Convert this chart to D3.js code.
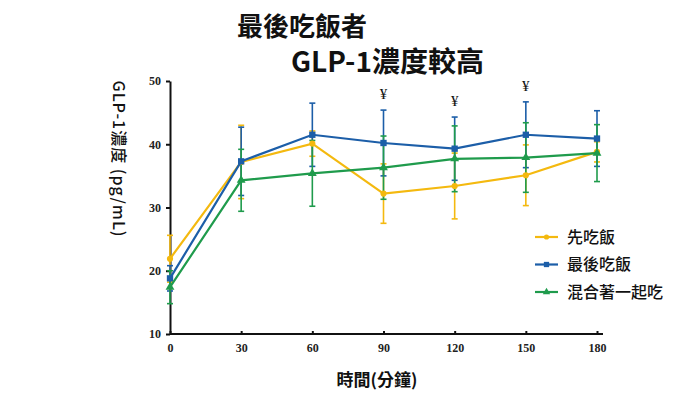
<!DOCTYPE html>
<html>
<head>
<meta charset="utf-8">
<script src="https://cdn.jsdelivr.net/npm/d3@7"></script>
<style>
  body { margin: 0; background: #fff; }
  svg { display: block; }
</style>
</head>
<body>
<div id="chart"></div>
<script>
// ---------------------------------------------------------------------------
// DATA
// ---------------------------------------------------------------------------
const times = [0, 30, 60, 90, 120, 150, 180];
const yTicks = [10, 20, 30, 40, 50];

const riceFirst = [21.9, 37.2, 40.1, 32.2, 33.4, 35.1, 38.8];
const riceFirstErr = [3.7, 5.8, 2.0, 4.7, 5.2, 4.8, 1.6];

const riceLast = [18.8, 37.3, 41.5, 40.2, 39.3, 41.5, 40.9];
const riceLastErr = [2.0, 5.4, 5.0, 5.2, 5.0, 5.2, 4.4];

const mixed = [17.4, 34.3, 35.4, 36.3, 37.7, 37.9, 38.6];
const mixedErr = [2.6, 4.9, 5.2, 5.0, 5.2, 5.5, 4.5];

const seriesNames = ["先吃飯", "最後吃飯", "混合著一起吃"];
const sigTimes = [90, 120, 150];

// ---------------------------------------------------------------------------
// SETUP
// ---------------------------------------------------------------------------
const W = 700, H = 394;
const x = d3.scaleLinear().domain([0, 180]).range([170, 597]);
const y = d3.scaleLinear().domain([10, 50]).range([334, 81]);

const svg = d3.select("#chart").append("svg")
  .attr("width", W).attr("height", H);

const series = [
  { name: seriesNames[0], vals: riceFirst, err: riceFirstErr, color: "#f4b90f", marker: d3.symbolCircle, size: 30 },
  { name: seriesNames[1], vals: riceLast, err: riceLastErr, color: "#1c5ea8", marker: d3.symbolSquare, size: 40 },
  { name: seriesNames[2], vals: mixed, err: mixedErr, color: "#1f9b4c", marker: d3.symbolTriangle, size: 34 }
];

// title
const title = svg.append("g")
  .style("font-family", "'Noto Sans CJK TC', 'Noto Sans', sans-serif")
  .style("font-weight", "bold")
  .attr("fill", "#111");
title.append("text").attr("x", 237).attr("y", 36).style("font-size", "26px").text("最後吃飯者");
title.append("text").attr("x", 291).attr("y", 72).style("font-size", "28px").text("GLP-1濃度較高");

// ---------------------------------------------------------------------------
// AXES
// ---------------------------------------------------------------------------
const xAxis = svg.append("g")
  .attr("transform", `translate(0,${y(10)})`)
  .call(d3.axisBottom(x).tickValues(times).tickSize(-3).tickPadding(9).tickSizeOuter(0));
xAxis.select(".domain").attr("d", `M${x(0)},0H603`);

const yAxis = svg.append("g")
  .attr("transform", `translate(${x(0)},0)`)
  .call(d3.axisLeft(y).tickValues(yTicks).tickSize(4).tickPadding(5).tickSizeOuter(0));

[xAxis, yAxis].forEach(a => {
  a.select(".domain").attr("stroke", "#111").attr("stroke-width", 2);
  a.selectAll(".tick line").attr("stroke", "#111").attr("stroke-width", 2);
  a.selectAll(".tick text")
    .style("font-family", "'Liberation Serif', 'DejaVu Serif', serif")
    .style("font-weight", "bold")
    .style("font-size", "12px")
    .attr("fill", "#222");
});

svg.append("text")
  .attr("x", 377).attr("y", 386)
  .attr("text-anchor", "middle")
  .style("font-family", "'Noto Sans CJK TC', sans-serif")
  .style("font-weight", "bold")
  .style("font-size", "17px")
  .attr("fill", "#111")
  .text("時間(分鐘)");

svg.append("text")
  .attr("transform", "translate(113,159) rotate(90)")
  .attr("text-anchor", "middle")
  .style("font-family", "'Noto Sans CJK TC', sans-serif")
  .style("font-weight", "500")
  .style("font-size", "16px")
  .style("letter-spacing", "1px")
  .attr("fill", "#111")
  .text("GLP-1濃度 (pg/mL)");

// ---------------------------------------------------------------------------
// ERROR BARS, LINES, MARKERS
// ---------------------------------------------------------------------------
const line = d3.line().x((d, i) => x(times[i])).y(d => y(d));

series.forEach(s => {
  const g = svg.append("g");
  times.forEach((t, i) => {
    const lo = y(s.vals[i] - s.err[i]), hi = y(s.vals[i] + s.err[i]);
    g.append("line").attr("x1", x(t)).attr("x2", x(t)).attr("y1", lo).attr("y2", hi)
      .attr("stroke", s.color).attr("stroke-width", 1.6);
    [lo, hi].forEach(yy => g.append("line")
      .attr("x1", x(t) - 3).attr("x2", x(t) + 3).attr("y1", yy).attr("y2", yy)
      .attr("stroke", s.color).attr("stroke-width", 1.6));
  });
});

series.forEach(s => {
  svg.append("path").datum(s.vals)
    .attr("d", line)
    .attr("fill", "none")
    .attr("stroke", s.color)
    .attr("stroke-width", 2.2);
  svg.append("g").selectAll("path").data(s.vals).join("path")
    .attr("transform", (d, i) => `translate(${x(times[i])},${y(d)})`)
    .attr("d", d3.symbol().type(s.marker).size(s.size))
    .attr("fill", s.color);
});

// significance marks above the 最後吃飯 error bars
sigTimes.forEach(t => {
  const i = times.indexOf(t);
  svg.append("text")
    .attr("x", x(t)).attr("y", y(riceLast[i] + riceLastErr[i]) - 11)
    .attr("text-anchor", "middle")
    .style("font-family", "'Liberation Serif', 'DejaVu Serif', serif")
    .style("font-size", "15px")
    .attr("fill", "#111")
    .text("¥");
});

// ---------------------------------------------------------------------------
// LEGEND
// ---------------------------------------------------------------------------
const legend = svg.append("g").attr("transform", "translate(535,237)");
series.forEach((s, i) => {
  const row = legend.append("g").attr("transform", `translate(0,${i * 27.5})`);
  row.append("line").attr("x1", 0).attr("x2", 23).attr("y1", 0).attr("y2", 0)
    .attr("stroke", s.color).attr("stroke-width", 2.2);
  row.append("path").attr("transform", "translate(11.5,0)")
    .attr("d", d3.symbol().type(s.marker).size(s.size * 0.7))
    .attr("fill", s.color);
  row.append("text").attr("x", 32).attr("y", 0).attr("dy", "0.36em")
    .style("font-family", "'Noto Sans CJK TC', sans-serif")
    .style("font-weight", "500")
    .style("font-size", "16px")
    .attr("fill", "#111")
    .text(s.name);
});
</script>
</body>
</html>
